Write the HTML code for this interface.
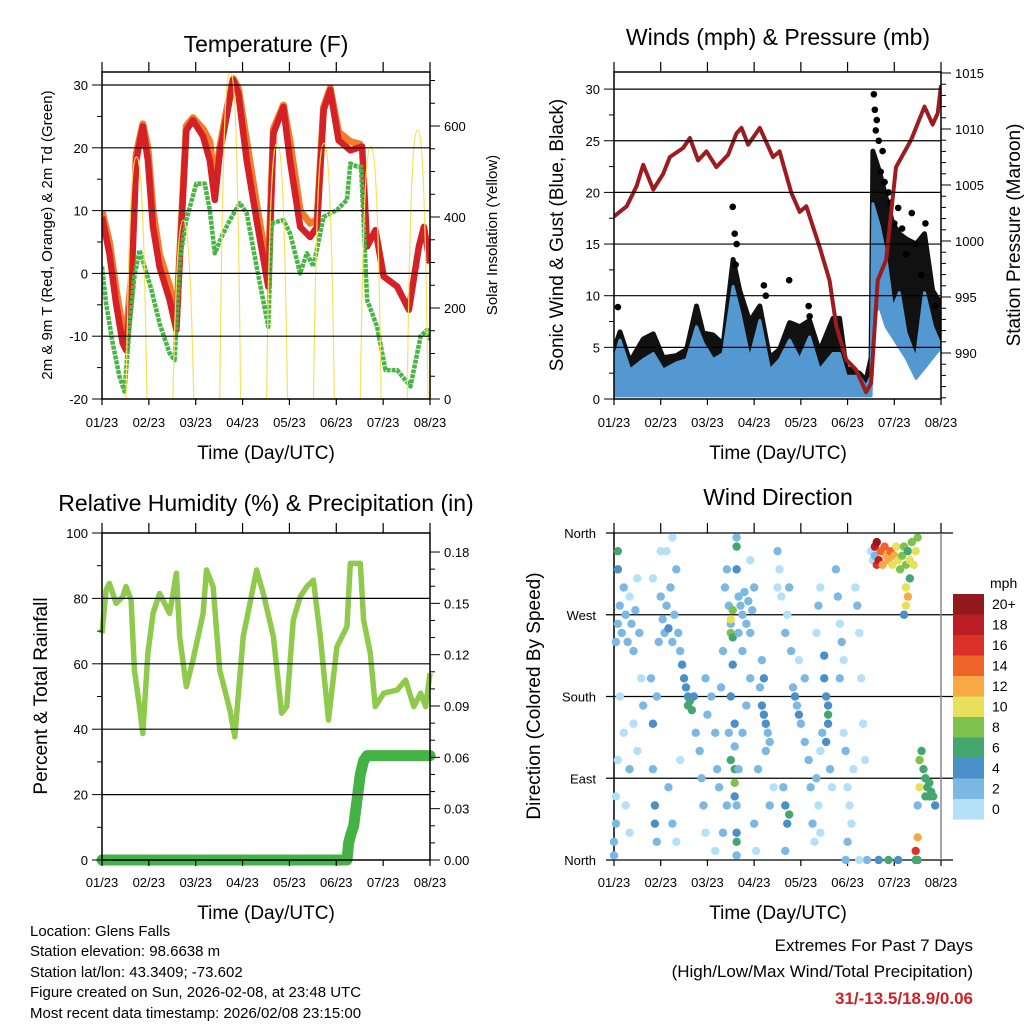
<!DOCTYPE html>
<html><head><meta charset="utf-8"><style>
html,body{margin:0;padding:0;background:#fff;}
svg{display:block;font-family:"Liberation Sans",sans-serif;}
</style></head><body>
<svg id="chart" width="1024" height="1024" viewBox="0 0 1024 1024">
<rect x="0" y="0" width="1024" height="1024" fill="#fff"/>
<text x="266" y="52" font-size="23" text-anchor="middle">Temperature (F)</text>
<text x="778" y="45" font-size="23" text-anchor="middle">Winds (mph) &amp; Pressure (mb)</text>
<text x="266" y="511" font-size="23" text-anchor="middle">Relative Humidity (%) &amp; Precipitation (in)</text>
<text x="778" y="505" font-size="23" text-anchor="middle">Wind Direction</text>
<text x="266" y="459" font-size="19" text-anchor="middle">Time (Day/UTC)</text>
<text x="778" y="459" font-size="19" text-anchor="middle">Time (Day/UTC)</text>
<text x="266" y="919" font-size="19" text-anchor="middle">Time (Day/UTC)</text>
<text x="778" y="919" font-size="19" text-anchor="middle">Time (Day/UTC)</text>
<text transform="translate(52,235) rotate(-90)" font-size="15" text-anchor="middle">2m &amp; 9m T (Red, Orange) &amp; 2m Td (Green)</text>
<text transform="translate(497,235) rotate(-90)" font-size="15" text-anchor="middle">Solar Insolation (Yellow)</text>
<text transform="translate(563,235) rotate(-90)" font-size="19" text-anchor="middle">Sonic Wind &amp; Gust (Blue, Black)</text>
<text transform="translate(1020,235) rotate(-90)" font-size="19" text-anchor="middle">Station Pressure (Maroon)</text>
<text transform="translate(47,696) rotate(-90)" font-size="19" text-anchor="middle">Percent &amp; Total Rainfall</text>
<text transform="translate(540,696) rotate(-90)" font-size="19" text-anchor="middle">Direction (Colored By Speed)</text>
<g font-size="15">
<text x="30" y="936">Location: Glens Falls</text>
<text x="30" y="956">Station elevation: 98.6638 m</text>
<text x="30" y="977">Station lat/lon: 43.3409; -73.602</text>
<text x="30" y="997">Figure created on Sun, 2026-02-08, at 23:48 UTC</text>
<text x="30" y="1018">Most recent data timestamp: 2026/02/08 23:15:00</text>
</g>
<text x="973" y="951" font-size="17" text-anchor="end">Extremes For Past 7 Days</text>
<text x="973" y="977" font-size="17" text-anchor="end">(High/Low/Max Wind/Total Precipitation)</text>
<text x="973" y="1004" font-size="17" font-weight="bold" fill="#cc2229" text-anchor="end">31/-13.5/18.9/0.06</text>
<text x="990" y="588" font-size="14">mph</text>
<defs>
<clipPath id="c1"><rect x="102" y="72" width="328" height="327"/></clipPath>
<clipPath id="c2"><rect x="614" y="72" width="327" height="327"/></clipPath>
<clipPath id="c3"><rect x="96" y="533" width="340" height="333"/></clipPath>
<clipPath id="c4"><rect x="610" y="529" width="335" height="335"/></clipPath>
</defs>
</svg>
<script>
// ---- data ----
const dayLabels = ["01/23","02/23","03/23","04/23","05/23","06/23","07/23","08/23"];
const tHours = [0,3.8,7.2,10.6,12.3,14.9,17.5,20.9,23.5,26.1,29.5,34.6,38.1,39.8,43.2,46.6,51.8,55.2,57.8,60.3,63.8,67.2,69.8,74.1,79.2,85.2,87.8,92.9,96.3,101.5,106.6,110.1,113.5,116.9,121.2,127.2,133.2,135.8,140.1,144.3,151.2,157.2,162.3,164.9,168];
const tRed = [9,3.2,-4.8,-11.1,-12.2,-3.2,18,23.4,18,7.4,1,-4.2,-9,2.1,22.8,24.4,21.8,18,11.7,19.1,25,30.8,28.7,18,8.5,-2.1,22.3,26.5,18,7.4,5.8,7.4,26,29.2,21.2,19.6,20.2,4.3,6.9,-0.5,-2.1,-5.8,4.3,7.4,1.6];
const oHours = [0,3.8,7.2,10.6,12.3,14.9,17.5,20.9,23.5,26.1,29.5,34.6,38.1,39.8,43.2,46.6,51.8,55.2,57.8,60.3,63.8,67.2,69.8,74.1,79.2,85.2,87.8,92.9,96.3,101.5,106.6,110.1,113.5,116.9,121.2,127.2,133.2];
const tOrange = [10,5,-2.5,-9,-10,-1,19,23.8,20,10,3,-2,-7.5,3,23.5,24.8,23,21,14,20,26,31,29.5,21,11,0,23,26.8,21,10,8,8.5,26.5,29.5,22.5,21,20.5];
const dHours = [0,2.1,5.5,8.9,11.5,14.1,16.6,19.2,21.8,25.3,29.5,34.6,37.2,39.8,43.2,48.3,52.6,55.2,57.8,61.2,65.5,70.6,74.1,79.2,85.2,86.9,92.9,96.3,101.5,104.9,108.3,113.5,120.3,125.5,127.2,130.6,132.7,135.8,140.9,145.2,151.2,158,163.2,166.6,168];
const tDew = [1.1,-4.8,-11.1,-16.4,-18.8,-8.5,-0.5,3.7,1.1,-2.6,-8,-12.7,-13.8,2.1,8.5,14.3,14.3,10.1,3.2,5.8,8.5,11.2,9.6,1.1,-8.5,8,8.5,6.4,0,3.2,1.1,9,10.1,11.7,17.5,17,17,-4.2,-8.5,-15.4,-15.4,-18,-10,-9,-10.6];
const solarPeak = [532,393,720,562,562,555,591];
const pHours = [0,6.5,11.6,15,20.2,25.3,28.7,35.5,39,43.2,47.5,52.6,58.6,62.9,65.5,68.9,74.9,81.7,85.1,91.1,95.4,98.8,105.6,110.7,114.2,119.3,124.4,129.5,132.1,135.5,139.8,144.9,152.6,159.5,163.7,166.3,168];
const pressure = [1002.2,1003.1,1004.9,1006.8,1004.6,1006,1007.5,1008.3,1009.2,1007.2,1008,1006.6,1007.7,1009.6,1010.1,1008.6,1010.1,1007.5,1008,1004.3,1002.6,1003.1,999.5,996.5,992.4,989.4,988.5,986.5,987.3,996.5,998.3,1006.6,1009,1012,1010.4,1011.4,1013.9];
const wHours = [0,3.1,8.2,15,20.2,25.3,32.1,37.3,42.4,45.8,50.9,56.1,61.2,64.6,69.7,74.9,80,85.1,90.2,95.4,100.5,105.6,112.5,115.9,119.3,126.1,129.5,132.1,133,136.4,139.8,143.2,146.6,150,155.2,159.5,163.7,168];
const windTop = [3.8,5.7,2.8,3.8,4.4,2.8,3.5,3.8,7,5.4,3.8,4.4,10.9,8.4,3.8,7.6,2.8,3.8,5.7,3.8,6,2.8,4.4,4.4,2.2,2.2,1.2,2.2,18.9,16.7,13.5,8.7,10.3,6.4,3.8,10.3,7,5.1];
const windLow = [0.3,0.3,0.3,0.3,0.3,0.3,0.3,0.3,0.3,0.3,0.3,0.3,0.3,0.3,0.3,0.3,0.3,0.3,0.3,0.3,0.3,0.3,0.3,0.3,0.3,0.3,0.3,0.3,8,9,7,6,5,4,2,3,4,5];
const gustTop = [4.8,6.5,3.6,5.8,6.3,4.0,4.2,4.8,9.0,6.4,6.2,5.3,13.5,10.5,7.5,9.0,4.0,4.8,7.4,7.0,7.6,4.6,7.8,7.8,3.0,2.5,1.8,4.0,24,22,19.5,17,16,15.5,15,16,10.5,9.2];
const gustDotHours = [2,61,62,63,62.5,90,100,100.5,78,77,141,144,150,155,160,153,158,165,134,135,136,137,138,133.5,134.5,139,142,146,148];
const gustDots = [8.9,18.6,16,15,13,11.5,9,8,10,11,20,17,14,15,17,18,12,9,28,27,25,22,24,29.5,26,21,19,18.5,16.5];
const rhHours = [0,2.1,3.8,7.2,10.6,12.3,14.9,16.6,19.2,20.9,23.5,26.1,29.5,34.6,38.1,39.8,43.2,46.6,51.8,53.5,56.9,60.3,65.5,68,72.3,77.5,79.2,82.6,87.8,92,94.6,98,101.5,104.9,108.3,111.8,116,120.3,125.5,127.2,132.3,134,137.4,140,144.3,151.2,155.5,159.7,163.2,165.8,168];
const rh = [69.3,82.6,84.6,78.5,80.5,83.6,79.5,58.1,46.9,38.7,63.2,75.4,81.5,75.4,87.7,68.3,53,61.2,75.4,88.7,83.6,58.1,45.9,37.7,68.3,83.6,88.7,81.5,68.3,44.9,46.9,73.4,80.5,83.6,85.6,68.3,42.8,65.2,71.4,90.7,90.7,73.4,63.2,46.9,51,52,55,46.9,51,46.9,57.1];
const prHours = [0,125.5,126.3,127.5,128.9,130.6,132.3,134,135.8,168];
const precip = [0,0,0.01,0.015,0.02,0.035,0.05,0.058,0.061,0.061];
const dirHours = [0,0,1,1,2,1,2,3,4,5,6,7,8,9,10,11,12,13,14,15,2,2,3,5,6,8,8,10,12,19,20,20,21,21,22,22,23,20,24,24,25,26,27,28,29,30,31,32,33,34,35,36,37,38,38,39,40,41,28,30,32,34,27,30,42,44,45,46,47,47,48,50,52,53,54,55,56,57,58,59,60,60,60,61,61,61,60,62,62,62,62,62,59,60,58,56,52,63,63,63,64,65,66,67,68,69,70,71,72,64,66,63,63,63,63,64,66,68,70,75,76,77,78,79,80,77,76,78,74,72,73,80,82,84,84,70,85,86,88,89,90,91,92,93,94,95,96,98,100,101,102,103,98,95,104,105,106,87,88,89,90,88,108,109,110,110,109,110,108,107,106,111,112,105,104,106,114,115,116,117,118,116,118,119,120,121,122,120,123,124,125,126,127,128,129,130,126,119,132,133,134,135,134,135,136,137,138,139,140,141,142,143,144,145,146,147,148,149,150,151,152,153,154,155,156,150,151,150,152,149,136,141,146,155,156,156,157,157,158,159,160,160,161,162,162,163,164,165,155,156];
const dirDeg = [5,20,40,70,110,240,260,280,250,300,270,240,290,260,230,275,310,250,200,170,340,320,180,140,60,30,100,150,120,200,150,100,60,40,20,180,240,310,340,290,265,250,280,255,300,240,270,320,250,230,215,200,190,180,170,175,165,180,80,40,20,110,340,355,140,120,90,60,30,200,160,180,140,100,80,190,230,300,320,280,260,250,265,275,245,215,180,150,125,100,85,70,140,110,60,30,10,355,345,320,290,280,270,295,260,285,250,275,300,250,230,60,30,20,5,100,140,170,200,190,170,160,150,140,130,200,220,120,100,40,10,60,80,340,300,330,320,290,250,270,300,230,190,180,170,160,150,130,110,80,40,20,200,220,90,60,30,80,60,40,50,10,200,180,170,150,130,160,225,140,120,100,80,280,250,300,320,290,260,240,220,200,140,120,80,60,40,20,100,300,280,250,200,150,110,0,0,0,340,330,335,325,345,350,330,340,325,345,335,330,340,325,335,345,330,320,335,345,325,340,330,350,325,340,355,300,290,280,310,270,0,0,0,10,25,60,80,110,120,100,90,70,80,85,70,75,70,60,0,0];
const dirSpd = [3,3,2,1,1,3,2,3,2,2,3,2,1,3,2,2,1,3,1,2,7,4,1,1,1,1,2,1,1,3,4,3,4,4,2,2,2,1,1,3,3,3,3,4,2,3,2,2,3,3,4,4,4,5,6,7,6,4,2,2,1,1,1,1,3,2,2,2,1,3,3,2,2,3,2,3,2,2,3,2,3,9,10,8,7,4,4,4,3,7,8,4,3,6,2,2,1,3,6,4,3,3,3,3,3,2,3,2,2,3,2,3,4,6,3,2,2,2,2,3,4,4,4,3,3,4,3,3,2,2,1,2,1,2,1,1,1,1,2,1,2,2,3,4,3,4,3,3,2,2,2,1,2,1,2,1,1,3,4,5,7,3,4,4,5,4,4,6,4,2,1,2,1,2,1,1,2,2,1,2,1,2,1,2,1,1,1,2,1,1,2,1,1,1,1,2,1,2,1,1,3,16,18,20,19,14,12,14,13,12,14,11,12,10,10,9,8,8,9,7,11,9,10,11,9,11,12,10,6,4,4,6,4,17,12,3,10,8,7,7,6,6,7,6,6,6,7,5,6,6,4,10,8];
const cbLabels = ["20+","18","16","14","12","10","8","6","4","2","0"];
const cbColors = ["#921a1c","#bb1d25","#dc3129","#ee6429","#f6a944","#e6e05a","#7dc24c","#46a66f","#4a8fc8","#7cb8e4","#b5e1f8"];

// ---- helpers ----
const NS = "http://www.w3.org/2000/svg";
const svg = document.getElementById('chart');
function mk(tag, attrs, parent){ const e=document.createElementNS(NS,tag); for(const k in attrs) e.setAttribute(k,attrs[k]); (parent||svg).appendChild(e); return e; }
function speedColor(s){ const i = Math.min(10, Math.floor(s/2)); return cbColors[10-i]; }
const P = {
  t:{x0:102,x1:430,y0:72,y1:399}, w:{x0:614,x1:941,y0:72,y1:399},
  r:{x0:102,x1:430,y0:533,y1:860}, d:{x0:614,x1:941,y0:533,y1:860}
};
function xs(p,h){ return p.x0 + h*(p.x1-p.x0)/168; }
const yT = v => 399 - (v+20)*6.28;
const yS = v => 399 - v*0.455;
const yW = v => 399 - v*10.33;
const yP = v => 353 - (v-990)*11.2;
const yR = v => 860 - v*3.27;
const yPr = v => 860 - v*1711;
const yD = v => 860 - v*0.9083;

function linePts(p,hs,vs,yf){ return hs.map((h,i)=>xs(p,h).toFixed(1)+','+yf(vs[i]).toFixed(1)).join(' '); }

function frame(p,key,grids,leftTicks,rightTicks,leftLabels,rightLabels,tickY){
  const g = mk('g',{});
  
  
  grids.forEach(y=>{ const l=mk('line',{x1:p.x0,x2:p.x1,y1:y,y2:y,stroke:'#000','stroke-width':1.2},g);
    
     });
  const r = mk('rect',{x:p.x0,y:p.y0,width:p.x1-p.x0,height:p.y1-p.y0,fill:'none',stroke:'#000','stroke-width':1.5},g);
  
  
  for(let d=0; d<=7; d++){
    const x = p.x0 + d*(p.x1-p.x0)/7;
    mk('line',{x1:x,x2:x,y1:p.y1,y2:p.y1+6,stroke:'#000','stroke-width':1.2},g);
    mk('line',{x1:x,x2:x,y1:p.y0,y2:p.y0-10,stroke:'#000','stroke-width':1.2},g);
    const t = mk('text',{x:x,y:tickY,'font-size':13,'text-anchor':'middle'},g);
    t.textContent = dayLabels[d];
    
    
  }
  leftTicks.forEach(tk=>mk('line',{x1:p.x0-tk[1],x2:p.x0,y1:tk[0],y2:tk[0],stroke:'#000','stroke-width':1},g));
  rightTicks.forEach(tk=>mk('line',{x1:p.x1,x2:p.x1+tk[1],y1:tk[0],y2:tk[0],stroke:'#000','stroke-width':1},g));
  leftLabels.forEach(lb=>{ const t=mk('text',{x:p.x0-14,y:lb[0]+5,'font-size':13,'text-anchor':'end'},g); t.textContent=lb[1];
    
     });
  rightLabels.forEach(lb=>{ const t=mk('text',{x:p.x1+14,y:lb[0]+5,'font-size':13,'text-anchor':'start'},g); t.textContent=lb[1];
    
     });
}

// ---- Panel 1: temperature ----
(function(){
  const p=P.t; const g=mk('g',{'clip-path':'url(#c1)'});
  
  
  const o=mk('polyline',{points:linePts(p,oHours,tOrange,yT),fill:'none',stroke:'#f47b29','stroke-width':7,'stroke-linejoin':'round'},g);
  
  
  const r=mk('polyline',{points:linePts(p,tHours,tRed,yT),fill:'none',stroke:'#d42127','stroke-width':6.5,'stroke-linejoin':'round'},g);
  
  
  const gr=mk('polyline',{points:linePts(p,dHours,tDew,yT),fill:'none',stroke:'#48b545','stroke-width':4.5,'stroke-dasharray':'4 1','stroke-linejoin':'round'},g);
  
  
  solarPeak.forEach((pk,d)=>{
    const rise=xs(p,d*24+12.3), set=xs(p,d*24+23), mid=(rise+set)/2, top=yS(pk);
    const path=mk('path',{d:`M${rise},399 C${rise+3},${top+40} ${mid-4},${top} ${mid},${top} C${mid+4},${top} ${set-3},${top+40} ${set},399`,fill:'none',stroke:'#f8e15c','stroke-width':1.2},g);
    
    
  });
  const grids=[30,20,10,0,-10].map(yT);
  const lt=[]; for(let v=-20; v<=30; v+=5) lt.push([yT(v), v%10===0?10:5]);
  const rt=[]; for(let s=0; s<=700; s+=50) rt.push([yS(s), s%200===0?10:5]);
  const ll=[-20,-10,0,10,20,30].map(v=>[yT(v),String(v)]);
  const rl=[0,200,400,600].map(v=>[yS(v),String(v)]);
  frame(p,'temperature',grids,lt,rt,ll,rl,427);
})();

// ---- Panel 2: winds ----
(function(){
  const p=P.w; const g=mk('g',{'clip-path':'url(#c2)'});
  
  
  const top=wHours.map((h,i)=>xs(p,h).toFixed(1)+','+yW(gustTop[i]).toFixed(1));
  const mid=wHours.map((h,i)=>xs(p,h).toFixed(1)+','+yW(windTop[i]).toFixed(1)).reverse();
  const gb=mk('polygon',{points:top.concat(mid).join(' '),fill:'#111',stroke:'#111','stroke-width':5,'stroke-linejoin':'round'},g);
  
  
  gustDotHours.forEach((h,i)=>{ const c=mk('circle',{cx:xs(p,h),cy:yW(gustDots[i]),r:3.3,fill:'#000'},g);
    
     });
  const bt=wHours.map((h,i)=>xs(p,h).toFixed(1)+','+yW(windTop[i]).toFixed(1));
  const bl=wHours.map((h,i)=>xs(p,h).toFixed(1)+','+yW(windLow[i]).toFixed(1)).reverse();
  const wb=mk('polygon',{points:bt.concat(bl).join(' '),fill:'#5498d1',stroke:'#5498d1','stroke-width':3,'stroke-linejoin':'round'},g);
  
  
  const pl=mk('polyline',{points:linePts(p,pHours,pressure,yP),fill:'none',stroke:'#9c1c1f','stroke-width':4,'stroke-linejoin':'round'},g);
  
  
  const grids=[5,10,15,20,25,30].map(yW);
  const lt=[]; for(let v=0; v<=31; v+=2.5) lt.push([yW(v), v%5===0?10:5]);
  const rt=[]; for(let v=986; v<=1015; v+=1) rt.push([yP(v), v%5===0?10:5]);
  const ll=[0,5,10,15,20,25,30].map(v=>[yW(v),String(v)]);
  const rl=[990,995,1000,1005,1010,1015].map(v=>[yP(v),String(v)]);
  frame(p,'winds',grids,lt,rt,ll,rl,427);
})();

// ---- Panel 3: RH ----
(function(){
  const p=P.r; const g=mk('g',{'clip-path':'url(#c3)'});
  
  
  const rl=mk('polyline',{points:linePts(p,rhHours,rh,yR),fill:'none',stroke:'#90ca4c','stroke-width':5.5,'stroke-linejoin':'round'},g);
  
  
  const pr=mk('polyline',{points:linePts(p,prHours,precip,yPr),fill:'none',stroke:'#45b246','stroke-width':11,'stroke-linejoin':'round','stroke-linecap':'round'},g);
  
  
  const grids=[20,40,60,80].map(yR);
  const lt=[]; for(let v=0; v<=100; v+=10) lt.push([yR(v), v%20===0?10:5]);
  const rt=[]; for(let v=0; v<=0.19; v+=0.01) rt.push([yPr(v), Math.round(v*100)%3===0?10:5]);
  const ll=[0,20,40,60,80,100].map(v=>[yR(v),String(v)]);
  const rlb=[0,0.03,0.06,0.09,0.12,0.15,0.18].map(v=>[yPr(v),v.toFixed(2)]);
  frame(p,'humidity',grids,lt,rt,ll,rlb,887);
})();

// ---- Panel 4: wind direction ----
(function(){
  const p=P.d;
  const g0=mk('g',{});
  
  
  [0,90,180,270,360].forEach(d=>{ const l=mk('line',{x1:p.x0-8,x2:p.x1+12,y1:yD(d),y2:yD(d),stroke:'#000','stroke-width':1.2},g0);
    
     });
  const g=mk('g',{'clip-path':'url(#c4)'});
  
  
  dirHours.forEach((h,i)=>{ const c=mk('circle',{cx:xs(p,h),cy:yD(dirDeg[i]),r:4.2,fill:speedColor(dirSpd[i])},g);
    
     });
  const names=["North","East","South","West","North"];
  [0,90,180,270,360].forEach((d,i)=>{ const t=mk('text',{x:p.x0-18,y:yD(d)+5,'font-size':13,'text-anchor':'end'},g0); t.textContent=names[i];
    
     });
  mk('line',{x1:p.x0,x2:p.x0,y1:p.y0,y2:p.y1,stroke:'#000','stroke-width':1.5},g0);
  mk('line',{x1:p.x1,x2:p.x1,y1:p.y0,y2:p.y1,stroke:'#888','stroke-width':1.5},g0);
  for(let d=0; d<=7; d++){
    const x=p.x0+d*(p.x1-p.x0)/7;
    mk('line',{x1:x,x2:x,y1:p.y1,y2:p.y1+6,stroke:'#000','stroke-width':1.2},g0);
    mk('line',{x1:x,x2:x,y1:p.y0,y2:p.y0-10,stroke:'#000','stroke-width':1.2},g0);
    const t=mk('text',{x:x,y:887,'font-size':13,'text-anchor':'middle'},g0); t.textContent=dayLabels[d];
    
    
  }
  const cb=mk('g',{});
  
  
  cbColors.forEach((c,i)=>{ const y=594+i*20.5;
    const r=mk('rect',{x:953,y:y,width:31,height:20.6,fill:c},cb);
    
    
    const t=mk('text',{x:992,y:y+15,'font-size':14},cb); t.textContent=cbLabels[i];
    
    
  });
})();
</script>
</body></html>
